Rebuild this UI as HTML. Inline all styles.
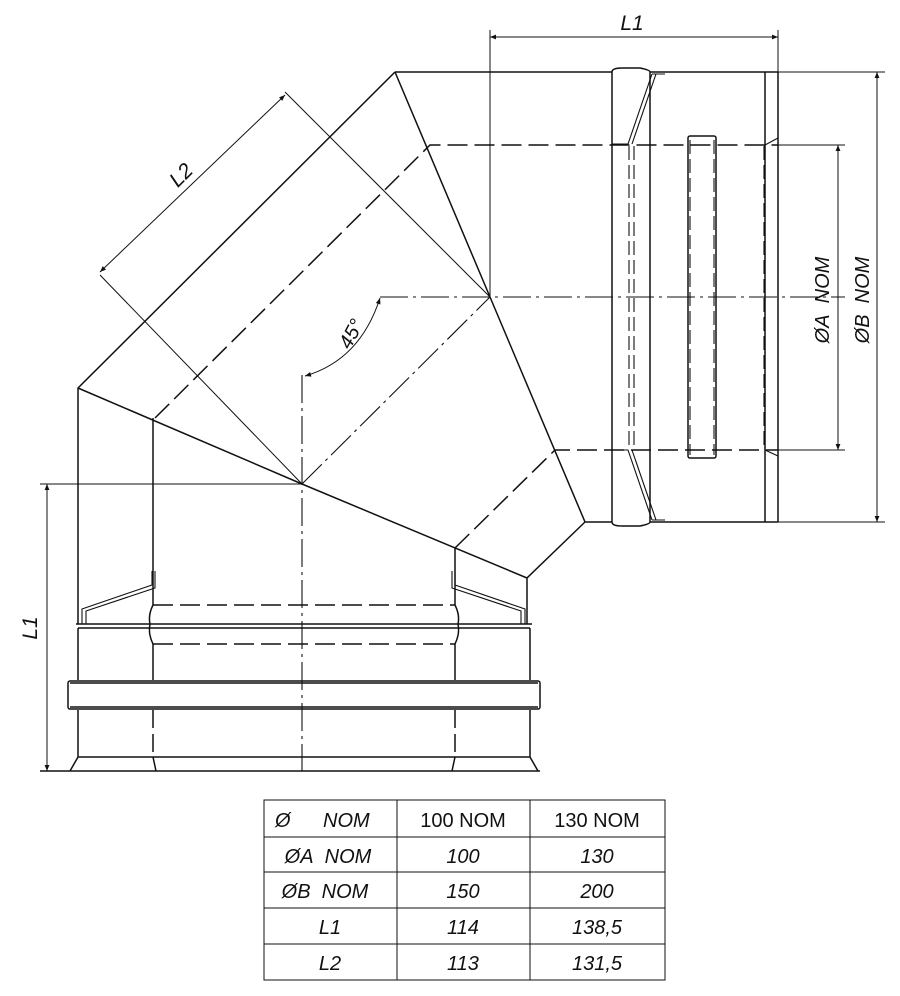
<!DOCTYPE html>
<html><head><meta charset="utf-8"><style>
html,body{margin:0;padding:0;background:#fff;}
svg{display:block;}
text{font-family:"Liberation Sans",sans-serif;fill:#111;}
.i{font-style:italic;}
</style></head><body>
<svg width="900" height="996" viewBox="0 0 900 996" xmlns="http://www.w3.org/2000/svg">
<defs>
<marker id="a" viewBox="0 0 10 10" refX="10" refY="5" markerWidth="10" markerHeight="6" orient="auto-start-reverse" markerUnits="userSpaceOnUse">
<path d="M0,1 L10,5 L0,9 z" fill="#111"/></marker>
</defs>
<g stroke="#111" stroke-width="1.5" fill="none">
<path d="M395,72 L612,72 M395,72 L78,388 L78,624 M395,72 L490,297 L585,522 L527,578 L527,624 M585,522 L612,522"/>
<path d="M78,388 L302,484 L527,578"/>
<path d="M612,72 Q612,68 622,68 L640,68 Q650,70 650,72 M612,522 Q612,526 622,526 L640,526 Q650,524 650,522"/>
<line x1="612" y1="72" x2="612" y2="522"/>
<line x1="650" y1="72" x2="650" y2="522"/>
<line x1="650" y1="72" x2="778" y2="72"/>
<line x1="650" y1="522" x2="778" y2="522"/>
<path d="M652,74 L628,144 L612,144 M656,74 L632,144 M652,74 L665,74 M652,520 L628,450 L612,450 M656,520 L632,450 M652,520 L665,520" stroke-width="1.1"/>
<line x1="765" y1="72" x2="765" y2="522"/>
<line x1="778" y1="72" x2="778" y2="522"/>
<path d="M765,145 L778,138 M765,450 L778,456" stroke-width="1.1"/>
<rect x="688" y="136" width="28" height="322" rx="2"/>
<path d="M629,146 V450 M634,146 V450 M690,140 V455 M714,140 V455 M764,146 V450" stroke-dasharray="14,5" stroke-width="1.1"/>
<path d="M152,571 L152,585 L82,609 L82,624 M155,571 L155,588 L86,611 L86,624" stroke-width="1.1"/>
<path d="M455,571 L455,585 L525,609 L525,624 M452,571 L452,588 L521,611 L521,624" stroke-width="1.1"/>
<path d="M153,418 V605 Q148,615 150,624 Q148,634 153,644 V680 M455,548 V605 Q460,615 458,624 Q460,634 455,644 V680"/>
<line x1="76" y1="624" x2="532" y2="624"/>
<line x1="78" y1="628" x2="530" y2="628"/>
<path d="M78,628 V680 M530,628 V680"/>
<rect x="68" y="681" width="472" height="28" rx="2"/>
<line x1="70" y1="683" x2="538" y2="683"/>
<line x1="70" y1="707" x2="538" y2="707"/>
<path d="M78,710 V757 L70,771 M530,710 V757 L538,771 M78,757 H530 M153,757 L156,771 M455,757 L452,771"/>
<line x1="40" y1="771" x2="540" y2="771"/>
<path d="M153,710 V757 M455,710 V757" stroke-dasharray="18,6"/>
<path d="M153,605 H455 M153,644 H455 M155,418 L430,145 L778,145 M455,548 L555,450 L778,450" stroke-dasharray="20,7"/>
<path d="M302,375 V771 M302,484 L490,297 M380,297 H845" stroke-dasharray="28,5,3,5" stroke-width="1.1"/>
<path d="M285,92 L490,297 M100,275 L302,484" stroke-width="1"/>
<line x1="100" y1="272" x2="285" y2="95" marker-start="url(#a)" marker-end="url(#a)" stroke-width="1"/>
<path d="M490,30 V297 M778,30 V72 M778,72 H885 M778,522 H885 M778,145 H845 M778,450 H845 M40,484 H302" stroke-width="1"/>
<line x1="490" y1="37" x2="778" y2="37" marker-start="url(#a)" marker-end="url(#a)" stroke-width="1"/>
<line x1="838" y1="145" x2="838" y2="450" marker-start="url(#a)" marker-end="url(#a)" stroke-width="1"/>
<line x1="877" y1="72" x2="877" y2="522" marker-start="url(#a)" marker-end="url(#a)" stroke-width="1"/>
<line x1="47" y1="484" x2="47" y2="771" marker-start="url(#a)" marker-end="url(#a)" stroke-width="1"/>
<path d="M305,376 Q360,360 380,298" marker-start="url(#a)" marker-end="url(#a)" stroke-width="1"/>
<rect x="264" y="800" width="401" height="180" stroke-width="1"/>
<path d="M397,800 V980 M530,800 V980 M264,837 H665 M264,872 H665 M264,908 H665 M264,944 H665" stroke-width="1"/>
</g>
<text x="632" y="30" font-size="21" class="i" text-anchor="middle">L1</text>
<text x="0" y="0" font-size="21" class="i" transform="translate(186,180) rotate(-45)" text-anchor="middle">L2</text>
<text x="0" y="0" font-size="20" class="i" transform="translate(357,337) rotate(-62)" text-anchor="middle">45°</text>
<text x="0" y="0" font-size="21" class="i" transform="translate(37,628) rotate(-90)" text-anchor="middle">L1</text>
<text x="0" y="0" font-size="20" class="i" transform="translate(829,300) rotate(-90)" text-anchor="middle">ØA&#160;&#160;NOM</text>
<text x="0" y="0" font-size="20" class="i" transform="translate(869,300) rotate(-90)" text-anchor="middle">ØB&#160;&#160;NOM</text>
<g font-size="20">
<text x="275" y="827" class="i">Ø</text><text x="323" y="827" class="i">NOM</text>
<text x="463" y="827" text-anchor="middle">100 NOM</text>
<text x="597" y="827" text-anchor="middle">130 NOM</text>
<text x="328" y="863" class="i" text-anchor="middle">ØA&#160;&#160;NOM</text>
<text x="463" y="863" class="i" text-anchor="middle">100</text>
<text x="597" y="863" class="i" text-anchor="middle">130</text>
<text x="325" y="898" class="i" text-anchor="middle">ØB&#160;&#160;NOM</text>
<text x="463" y="898" class="i" text-anchor="middle">150</text>
<text x="597" y="898" class="i" text-anchor="middle">200</text>
<text x="330" y="934" class="i" text-anchor="middle">L1</text>
<text x="463" y="934" class="i" text-anchor="middle">114</text>
<text x="597" y="934" class="i" text-anchor="middle">138,5</text>
<text x="330" y="970" class="i" text-anchor="middle">L2</text>
<text x="463" y="970" class="i" text-anchor="middle">113</text>
<text x="597" y="970" class="i" text-anchor="middle">131,5</text>
</g>
</svg>
</body></html>
